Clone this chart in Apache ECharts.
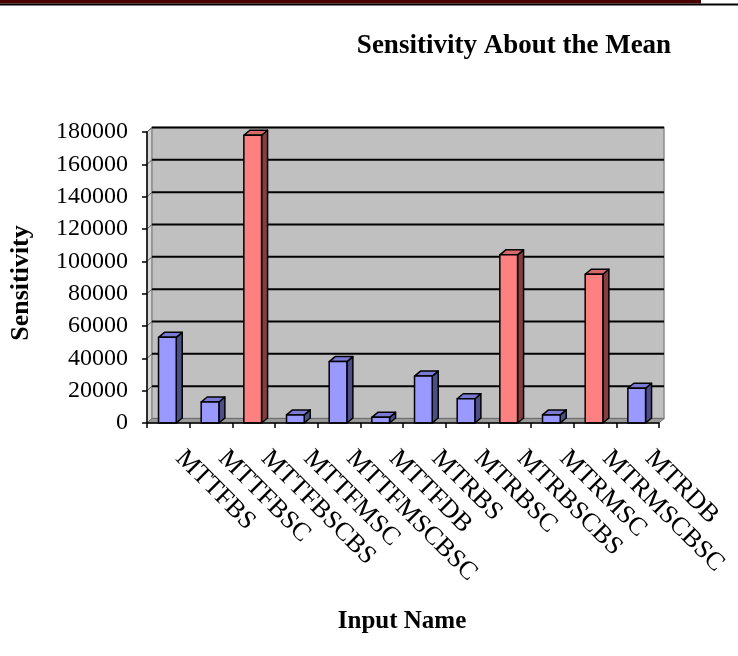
<!DOCTYPE html>
<html>
<head>
<meta charset="utf-8">
<title>Sensitivity About the Mean</title>
<script src="https://cdn.jsdelivr.net/npm/echarts@6/dist/echarts.min.js"></script>
<style>
  html, body { margin: 0; padding: 0; background: #ffffff; }
  #chart { width: 738px; height: 656px; }
</style>
</head>
<body>
<div id="chart"></div>
<script>
// Input names along the category axis
const categories = [
  'MTTFBS', 'MTTFBSC', 'MTTFBSCBS', 'MTTFMSC', 'MTTFMSCBSC', 'MTTFDB',
  'MTRBS', 'MTRBSC', 'MTRBSCBS', 'MTRMSC', 'MTRMSCBSC', 'MTRDB'
];
// Sensitivity of the output about the mean for each input
const sensitivity = [
  53000, 13000, 178000, 5000, 38000, 3500,
  29000, 15000, 104000, 5000, 92000, 21500
];
// Inputs flagged as dominant (drawn in red)
const dominant = [
  false, false, true, false, false, false,
  false, false, true, false, true, false
];
// Value-axis ticks
const yTicks = [0, 20000, 40000, 60000, 80000, 100000, 120000, 140000, 160000, 180000];

const SERIF = '"Liberation Serif", "Times New Roman", serif';

// 3D look: depth offsets for walls and bar prisms
const WALL_DX = 5, WALL_DY = -4.5;
const BAR_DX = 6, BAR_DY = -5;

const palette = {
  blue: { front: '#9999ff', side: '#4d4d87', top: '#7a7ad4' },
  red:  { front: '#ff8080', side: '#863f3f', top: '#d46a6a' }
};

const chart = echarts.init(document.getElementById('chart'), null, { renderer: 'canvas' });

function renderWalls(params, api) {
  const cs = params.coordSys;
  const x0 = cs.x, x1 = cs.x + cs.width;
  const yTop = cs.y, yBase = cs.y + cs.height;
  const children = [];
  // left side wall
  children.push({
    type: 'polygon',
    shape: { points: [[x0, yTop], [x0 + WALL_DX, yTop + WALL_DY], [x0 + WALL_DX, yBase + WALL_DY], [x0, yBase]] },
    style: { fill: '#d6d6d6', stroke: '#8c8c8c', lineWidth: 1 }
  });
  // back wall
  children.push({
    type: 'rect',
    shape: { x: x0 + WALL_DX, y: yTop + WALL_DY, width: x1 - x0, height: cs.height },
    style: { fill: '#c0c0c0', stroke: '#8c8c8c', lineWidth: 1.5 }
  });
  // floor
  children.push({
    type: 'polygon',
    shape: { points: [[x0, yBase], [x0 + WALL_DX, yBase + WALL_DY], [x1 + WALL_DX, yBase + WALL_DY], [x1, yBase]] },
    style: { fill: '#9a9a9a', stroke: '#6e6e6e', lineWidth: 1 }
  });
  // gridlines on the back wall
  yTicks.forEach(function (v) {
    if (v === 0) return;
    const p = api.coord([0, v]);
    children.push({
      type: 'line',
      shape: { x1: x0 + WALL_DX, y1: p[1] + WALL_DY, x2: x1 + WALL_DX, y2: p[1] + WALL_DY },
      style: { stroke: '#000000', lineWidth: 2 }
    });
    children.push({
      type: 'line',
      shape: { x1: x0, y1: p[1], x2: x0 + WALL_DX, y2: p[1] + WALL_DY },
      style: { stroke: '#5a5a5a', lineWidth: 1 }
    });
  });
  return { type: 'group', children: children };
}

function renderBar(params, api) {
  const idx = api.value(0);
  const top = api.coord([idx, api.value(1)]);
  const base = api.coord([idx, 0]);
  const band = api.size([1, 0])[0];
  const w = band * 0.415;
  const left = top[0] - band / 2 + band * 0.27;
  const right = left + w;
  const c = dominant[params.dataIndex] ? palette.red : palette.blue;
  const edge = { stroke: '#000000', lineWidth: 1.5, lineJoin: 'round' };
  return {
    type: 'group',
    children: [
      {
        type: 'polygon',
        shape: { points: [[right, top[1]], [right + BAR_DX, top[1] + BAR_DY], [right + BAR_DX, base[1] + BAR_DY], [right, base[1]]] },
        style: Object.assign({ fill: c.side }, edge)
      },
      {
        type: 'polygon',
        shape: { points: [[left, top[1]], [left + BAR_DX, top[1] + BAR_DY], [right + BAR_DX, top[1] + BAR_DY], [right, top[1]]] },
        style: Object.assign({ fill: c.top }, edge)
      },
      {
        type: 'rect',
        shape: { x: left, y: top[1], width: w, height: base[1] - top[1] },
        style: Object.assign({ fill: c.front }, edge)
      }
    ]
  };
}

const option = {
  backgroundColor: '#ffffff',
  animation: false,
  grid: { left: 147, right: 79, top: 132, bottom: 233, containLabel: false },
  xAxis: {
    type: 'category',
    data: categories,
    boundaryGap: true,
    axisLine: { show: true, lineStyle: { color: '#000000', width: 1.5 } },
    axisTick: { show: true, length: 5, lineStyle: { color: '#000000', width: 1.5 } },
    axisLabel: {
      interval: 0,
      rotate: -45,
      margin: 20,
      padding: [0, 0, 0, 16],
      color: '#000000',
      fontFamily: SERIF,
      fontSize: 26
    },
    splitLine: { show: false },
    z: 10
  },
  yAxis: {
    type: 'value',
    min: 0,
    max: 180000,
    interval: 20000,
    axisLine: { show: true, lineStyle: { color: '#000000', width: 1.5 } },
    axisTick: { show: true, length: 5, lineStyle: { color: '#000000', width: 1.5 } },
    axisLabel: {
      margin: 19,
      color: '#000000',
      fontFamily: SERIF,
      fontSize: 24,
      formatter: function (v) { return String(v); }
    },
    splitLine: { show: false },
    z: 10
  },
  graphic: [
    // header strip
    { type: 'rect', left: 0, top: 0, shape: { width: 701, height: 3.5 }, style: { fill: '#4a0000' } },
    { type: 'rect', left: 0, top: 3.5, shape: { width: 738, height: 2 }, style: { fill: '#000000' } },
    {
      type: 'text', x: 514, y: 46,
      style: { text: 'Sensitivity About the Mean', fill: '#000000', font: 'bold 27px ' + SERIF, align: 'center', verticalAlign: 'middle' }
    },
    {
      type: 'text', x: 402, y: 622,
      style: { text: 'Input Name', fill: '#000000', font: 'bold 25px ' + SERIF, align: 'center', verticalAlign: 'middle' }
    },
    {
      type: 'text', x: 21, y: 283, rotation: Math.PI / 2,
      style: { text: 'Sensitivity', fill: '#000000', font: 'bold 26px ' + SERIF, align: 'center', verticalAlign: 'middle' }
    }
  ],
  series: [
    {
      type: 'custom',
      name: 'walls',
      renderItem: renderWalls,
      data: [[0, 0]],
      silent: true,
      z: 1
    },
    {
      type: 'custom',
      name: 'Sensitivity',
      renderItem: renderBar,
      data: sensitivity.map(function (v, i) { return [i, v]; }),
      encode: { x: 0, y: 1 },
      z: 5
    }
  ]
};

chart.setOption(option);
</script>
</body>
</html>
